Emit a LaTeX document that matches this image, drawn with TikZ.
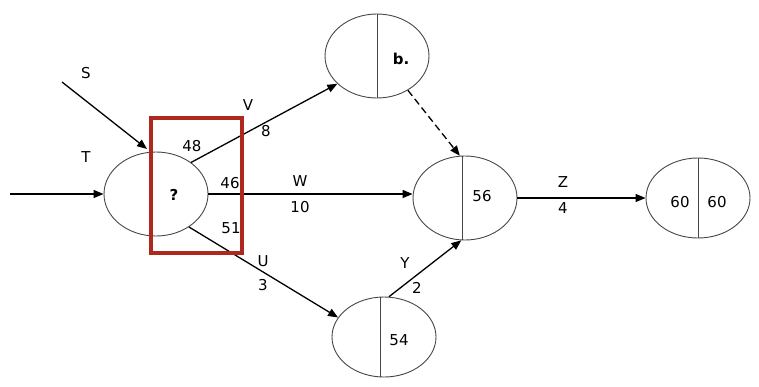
\documentclass[tikz,border=0pt]{standalone}
\usepackage{fontspec}
\setmainfont{DejaVu Sans}
\usetikzlibrary{shapes.geometric,arrows.meta,calc}
\definecolor{boxred}{RGB}{175,40,30}
\definecolor{edgegray}{RGB}{70,70,70}
\begin{document}
\begin{tikzpicture}[x=1pt,y=-1pt,
  ell/.style={ellipse,draw=edgegray,line width=0.9pt,minimum width=104pt,minimum height=84pt,inner sep=0pt},
  arr/.style={-{Triangle[length=10pt,width=8pt]},line width=1.3pt},
  lbl/.style={font=\fontsize{15}{17}\selectfont,inner sep=0pt},
  blbl/.style={font=\fontsize{15}{17}\selectfont\bfseries,inner sep=0pt},
  divider/.style={draw=edgegray,line width=1pt}]
\useasboundingbox (0,0) rectangle (759,386);
% nodes
\node[ell] (A) at (156,194) {};
\node[ell] (B) at (377,56) {};
\node[ell] (C) at (465,198) {};
\node[ell,minimum height=80pt] (D) at (384,337) {};
\node[ell,minimum height=80pt] (E) at (698,198) {};
% dividers
\draw[divider] (B.north) -- (B.south);
\draw[divider] ($(C.north)+(-3,0.3)$) -- ($(C.south)+(-3,-0.3)$);
\draw[divider] ($(D.north)+(-4,0.4)$) -- ($(D.south)+(-4,-0.4)$);
\draw[divider] (E.north) -- (E.south);
% texts in nodes
\node[blbl] (q) at (174,195) {?};
\node[blbl] (bb) at (401,59) {b.};
\node[lbl] (c56) at (482,196) {56};
\node[lbl] (d54) at (399,340) {54};
\node[lbl] (e1) at (680,202) {60};
\node[lbl] (e2) at (717,202) {60};
% free ends
\coordinate (sS) at (62,82);
\coordinate (sE) at (147,149);
\coordinate (tS) at (10,194);
% connectors
\draw[arr] (sS) -- (sE);
\draw[arr] (tS) -- (A.west);
\draw[arr] (A.42) -- (B.215);
\draw[arr] (A.east) -- (A.east -| C.west);
\draw[arr] (A.-45) -- (D.157);
\draw[arr] (D.83) -- (C.-95);
\draw[arr,dashed,dash pattern=on 7pt off 4pt] (B.-48) -- (C.97);
\draw[arr] (C.east) -- (E.west);
% edge labels
\node[lbl] (lS) at (86,73) {S};
\node[lbl] (lT) at (86,157) {T};
\node[lbl] (l48) at (192,146) {48};
\node[lbl] (l46) at (230,183) {46};
\node[lbl] (l51) at (231,228) {51};
\node[lbl] (lV) at (248,105) {V};
\node[lbl] (l8) at (266,131) {8};
\node[lbl] (lW) at (300,181) {W};
\node[lbl] (l10) at (300,207) {10};
\node[lbl] (lU) at (263,261) {U};
\node[lbl] (l3) at (263,285) {3};
\node[lbl] (lY) at (405,263) {Y};
\node[lbl] (l2) at (417,288) {2};
\node[lbl] (lZ) at (563,182) {Z};
\node[lbl] (l4) at (563,208) {4};
% red box
\draw[boxred,line width=3.5pt] (151,118) rectangle (242,253);
\end{tikzpicture}
\end{document}
